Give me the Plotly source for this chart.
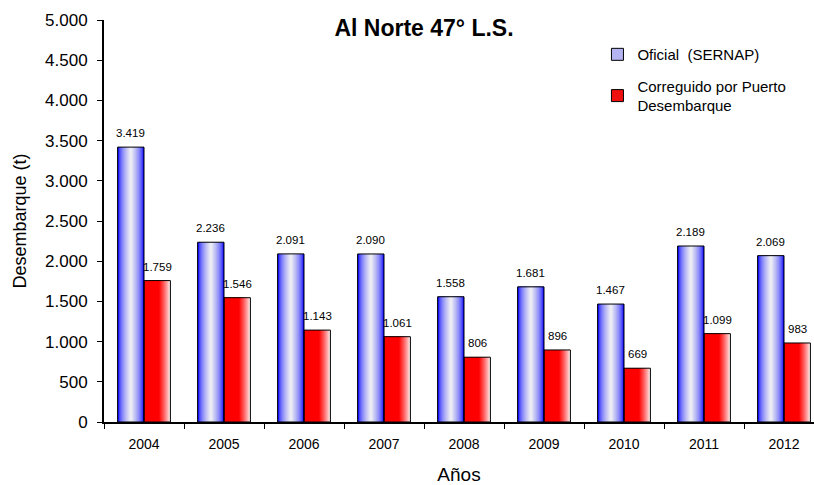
import plotly.graph_objects as go

# ---------------- data ----------------
years = ["2004", "2005", "2006", "2007", "2008", "2009", "2010", "2011", "2012"]
oficial = [3419, 2236, 2091, 2090, 1558, 1681, 1467, 2189, 2069]
corregido = [1759, 1546, 1143, 1061, 806, 896, 669, 1099, 983]
name_oficial = "Oficial\u00a0 (SERNAP)"
name_corregido = "Correguido por Puerto<br>Desembarque"
title_text = "Al Norte 47° L.S."
y_title = "Desembarque (t)"
x_title = "Años"

FONT = "Liberation Sans, Arial, sans-serif"
BW = 0.33
N = 12


def mix(c1, c2, t):
    return "rgb(%d,%d,%d)" % tuple(round(a + (b - a) * t) for a, b in zip(c1, c2))


def fmt(v):
    return "{:,}".format(v).replace(",", ".")


fig = go.Figure()

# blue bars: blue edges, light centre (horizontal gradient built from layers)
for k in range(N):
    f = 1 - k / N
    t = (k / (N - 1)) ** 0.55
    fig.add_bar(
        x=years, y=oficial, width=BW * f, offset=-BW + BW * (1 - f) / 2,
        marker=dict(color=mix((0, 0, 255), (236, 236, 244), t), line=dict(width=0)),
        showlegend=False, hoverinfo="skip",
    )

# red bars: red on the left, fading to white on the right
for k in range(N + 1):
    f = 1 - 0.42 * k / N
    t = (k / N) ** 0.8
    fig.add_bar(
        x=years, y=corregido, width=BW * f, offset=0,
        marker=dict(color=mix((255, 246, 246), (255, 0, 0), t), line=dict(width=0)),
        showlegend=False, hoverinfo="skip",
    )

# outlines
for vals, off in ((oficial, -BW), (corregido, 0)):
    fig.add_bar(
        x=years, y=vals, width=BW, offset=off,
        marker=dict(color="rgba(0,0,0,0)", line=dict(color="black", width=1)),
        showlegend=False, hoverinfo="skip",
    )

# value labels above each bar
for vals, dx in ((oficial, -BW / 2), (corregido, BW / 2)):
    for i, v in enumerate(vals):
        fig.add_annotation(x=i + dx, y=v, text=fmt(v), showarrow=False,
                           xanchor="center", yanchor="bottom", yshift=6,
                           font=dict(family=FONT, size=11.5, color="black"))

# legend entries
fig.add_bar(x=[None], y=[None], name=name_oficial, legendgroup="a",
            marker=dict(color="#b4b4f2", line=dict(color="black", width=1)))
fig.add_bar(x=[None], y=[None], name=name_corregido, legendgroup="b",
            marker=dict(color="#f01010", line=dict(color="black", width=1)))

fig.update_layout(
    width=814, height=485,
    margin=dict(l=104, r=0, t=20, b=63, pad=0),
    barmode="overlay",
    separators=",.",
    paper_bgcolor="white", plot_bgcolor="white",
    font=dict(family=FONT, color="black"),
    title=dict(text="<b>%s</b>" % title_text, x=424 / 814, xanchor="center",
               y=1 - 28 / 485, yanchor="middle", font=dict(size=23, family=FONT)),
    legend=dict(x=0.695, y=0.955, xanchor="left", yanchor="top",
                font=dict(size=15, family=FONT), traceorder="grouped",
                bgcolor="rgba(0,0,0,0)", tracegroupgap=9),
    showlegend=True,
    xaxis=dict(type="category", range=[-0.5, 8.375], showgrid=False, zeroline=False,
               showline=True, linecolor="black", linewidth=2, automargin=False,
               ticks="outside", tickson="boundaries", ticklen=5, tickcolor="black",
               tickfont=dict(size=14, family=FONT), ticklabelstandoff=8,
               title=dict(text=x_title, font=dict(size=19, family=FONT), standoff=20)),
    yaxis=dict(range=[0, 5000], dtick=500, tickformat=",d", showgrid=False, zeroline=False,
               showline=True, linecolor="black", linewidth=2, automargin=False,
               ticks="outside", ticklen=5, tickcolor="black",
               tickfont=dict(size=17, family=FONT), ticklabelstandoff=6,
               title=dict(text=y_title, font=dict(size=18, family=FONT), standoff=14)),
)

fig.write_html("out.html", config={"displayModeBar": False},
               post_script="document.body.style.margin='0';")
